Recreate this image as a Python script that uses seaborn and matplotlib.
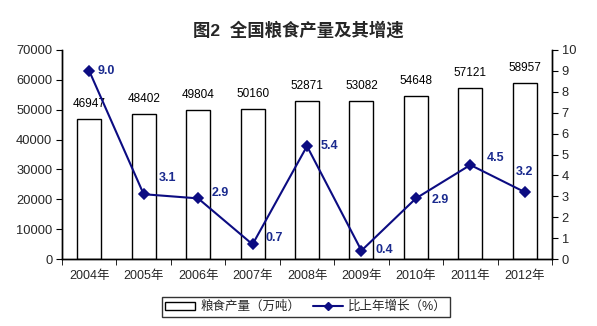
import matplotlib
matplotlib.use("Agg")
import matplotlib.pyplot as plt
import seaborn as sns
import pandas as pd
from matplotlib.patches import Patch
from matplotlib.lines import Line2D

years = ["2004年", "2005年", "2006年", "2007年", "2008年", "2009年", "2010年", "2011年", "2012年"]
output = [46947, 48402, 49804, 50160, 52871, 53082, 54648, 57121, 58957]
growth = [9.0, 3.1, 2.9, 0.7, 5.4, 0.4, 2.9, 4.5, 3.2]
growth_offsets = [(17, 0), (24, 16), (22, 5), (22, 6), (22, 0), (23, 1), (24, -2), (25, 7), (0, 20)]
left_ticks = [0, 10000, 20000, 30000, 40000, 50000, 60000, 70000]
right_ticks = list(range(0, 11))

sns.set_style("ticks")
plt.rcParams['font.family'] = ['Liberation Sans', 'Noto Sans CJK SC', 'DejaVu Sans']
plt.rcParams['axes.unicode_minus'] = False

navy = "#0c0c82"
label_blue = "#1a2a8e"
df = pd.DataFrame({"year": years, "output": output, "growth": growth})

fig = plt.figure(figsize=(5.97, 3.26), dpi=100)
ax = fig.add_axes([62/597, 67/326, 490/597, 209/326])

sns.barplot(data=df, x="year", y="output", ax=ax, color="white", edgecolor="black",
            linewidth=1.0, width=0.44, saturation=1)
ax.set_ylim(0, 70000)
ax.set_xlim(-0.5, 8.5)
ax.set_yticks(left_ticks)
ax.set_xlabel("")
ax.set_ylabel("")
for i, v in enumerate(output):
    ax.annotate(str(v), (i, v), xytext=(0, 9), textcoords="offset pixels",
                ha="center", va="bottom", fontsize=8.5, color="black")

ax2 = ax.twinx()
sns.pointplot(data=df, x="year", y="growth", ax=ax2, color=navy, markers="D",
              linestyles="-", markersize=5, linewidth=1.5)
ax2.set_ylim(0, 10)
ax2.set_xlim(-0.5, 8.5)
ax2.set_yticks(right_ticks)
ax2.set_xlabel("")
ax2.set_ylabel("")
for i, (v, off) in enumerate(zip(growth, growth_offsets)):
    ax2.annotate(f"{v:.1f}", (i, v), xytext=off, textcoords="offset pixels",
                 ha="center", va="center", fontsize=9, fontweight="bold", color=label_blue)

for a in (ax, ax2):
    a.spines["top"].set_visible(False)
    for s in ("left", "right", "bottom"):
        a.spines[s].set_color("black")
        a.spines[s].set_linewidth(1.0)
ax.spines["right"].set_visible(True)

ax.set_xticks(range(len(years)))
ax.set_xticklabels(years)
ax.set_xticks([i + 0.5 for i in range(-1, len(years))], minor=True)
ax.tick_params(axis="x", which="major", length=0, pad=8, labelsize=9)
ax.tick_params(axis="x", which="minor", length=4, direction="out", color="black")
ax.tick_params(axis="y", length=4, direction="out", labelsize=9.3, pad=3, color="black")
ax2.tick_params(axis="y", length=4, direction="out", labelsize=9.3, pad=3, color="black")

fig.suptitle("图2  全国粮食产量及其增速", y=0.935, x=0.5, fontsize=12.5, fontweight="semibold")

handles = [Patch(facecolor="white", edgecolor="black", linewidth=1.0),
           Line2D([0], [0], color=navy, marker="D", markersize=4, linewidth=1.5)]
leg = fig.legend(handles, ["粮食产量（万吨）", "比上年增长（%）"], loc="center",
                 bbox_to_anchor=(306/597, 1 - 307/326), ncol=2, fontsize=9,
                 frameon=True, fancybox=False, edgecolor="black", handlelength=2.4,
                 handleheight=0.6, columnspacing=1.0, handletextpad=0.4,
                 borderpad=0.3)
leg.get_frame().set_linewidth(1.0)

fig.savefig("out.png", dpi=100)
